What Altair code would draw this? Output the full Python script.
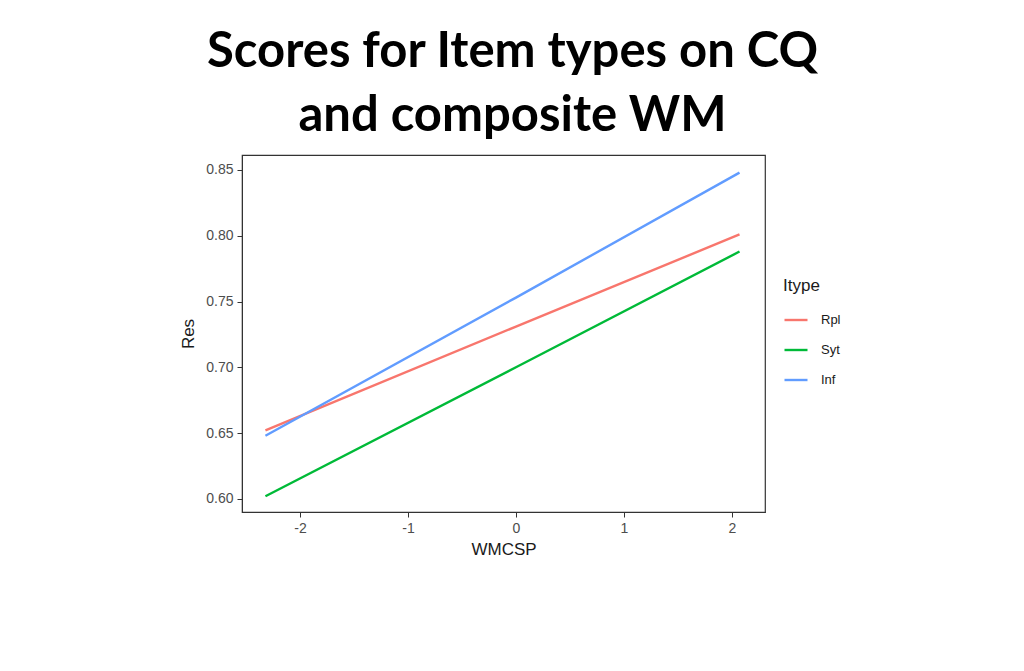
import altair as alt
import pandas as pd

x_vals = [-2.32, 0.0, 2.07]
rpl = [0.652, 0.731, 0.801]
syt = [0.602, 0.700, 0.788]
inf = [0.648, 0.753, 0.848]
types = ["Rpl", "Syt", "Inf"]
colors = ["#F8766D", "#00BA38", "#619CFF"]
x_ticks = [-2, -1, 0, 1, 2]
y_ticks = [0.60, 0.65, 0.70, 0.75, 0.80, 0.85]

rows = []
for name, ys in zip(types, [rpl, syt, inf]):
    for xv, yv in zip(x_vals, ys):
        rows.append({"WMCSP": xv, "Res": yv, "Itype": name})
df = pd.DataFrame(rows)

axis_common = dict(
    labelFont="Liberation Sans", labelFontSize=14, labelColor="#4D4D4D",
    titleFont="Liberation Sans", titleFontSize=17, titleFontWeight="normal", titleColor="#1a1a1a",
    tickColor="#333333", tickSize=5, domainColor="#333333", grid=False, labelPadding=4,
)

chart = alt.Chart(df).mark_line(strokeWidth=2.4).encode(
    x=alt.X("WMCSP:Q", scale=alt.Scale(domain=[-2.537, 2.306], nice=False, zero=False),
            axis=alt.Axis(values=x_ticks, labelExpr="datum.value + ''", titlePadding=6, **axis_common)),
    y=alt.Y("Res:Q", scale=alt.Scale(domain=[0.590, 0.8614], nice=False, zero=False),
            axis=alt.Axis(values=y_ticks, format=".2f", titlePadding=8, **axis_common)),
    color=alt.Color("Itype:N", scale=alt.Scale(domain=types, range=colors),
                    legend=alt.Legend(orient="none", legendX=541, legendY=123,
                                      symbolType="stroke", symbolSize=529, symbolStrokeWidth=2.4,
                                      titleFont="Liberation Sans", titleFontSize=17, titleFontWeight="normal",
                                      titleColor="#1a1a1a", labelFont="Liberation Sans", labelFontSize=13,
                                      labelColor="#1a1a1a", labelOffset=12, rowPadding=10, titlePadding=12)),
    detail="Itype:N",
).properties(
    width=523, height=357,
    title=alt.TitleParams(text=["Scores for Item types on CQ", "and composite WM"],
                          font="Lato", fontSize=49, fontWeight="bold", color="#000000",
                          anchor="middle", offset=14, dx=9, lineHeight=64),
    autosize=alt.AutoSizeParams(type="none"),
    padding={"left": 234, "top": 147, "right": 240, "bottom": 140},
).configure(background="white").configure_view(stroke="#333333", strokeWidth=1.2)

chart.save("out.html", embed_options={"renderer": "svg", "actions": False})
